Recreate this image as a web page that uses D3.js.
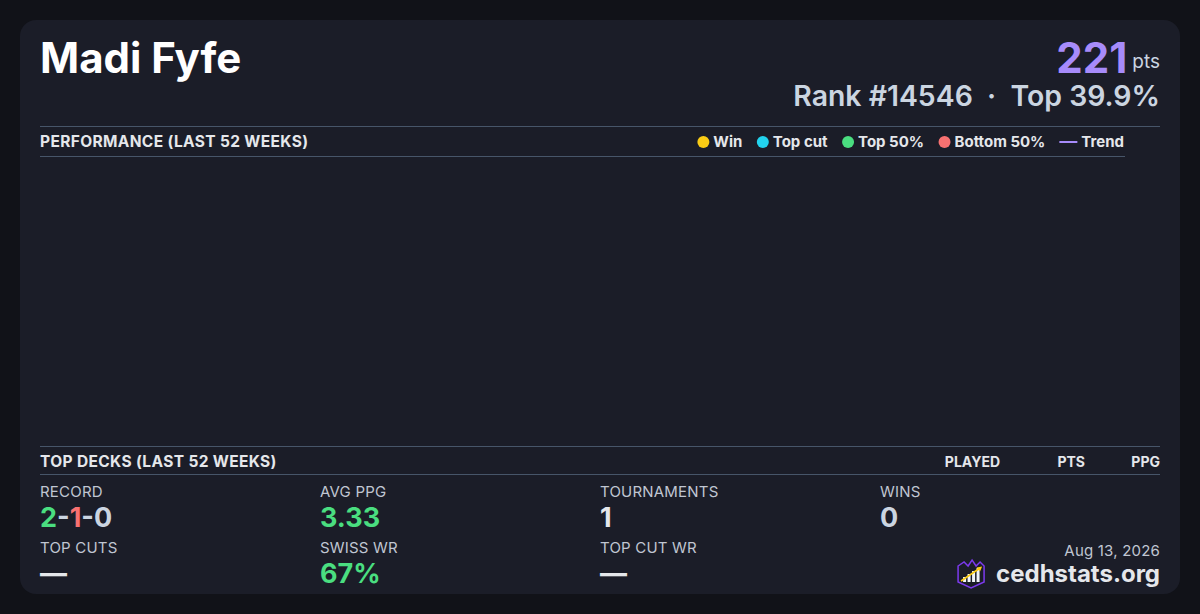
<!DOCTYPE html>
<html>
<head>
<meta charset="utf-8">
<script src="https://cdn.jsdelivr.net/npm/d3@7"></script>
<style>
  html, body { margin: 0; padding: 0; background: #111218; }
  svg { display: block; font-family: Inter, "Noto Sans", sans-serif; }
</style>
</head>
<body>
<div class="chart"></div>
<script>
var playerName = "Madi Fyfe";
var points = 221;
var rankText = "Rank #14546";
var topText = "Top 39.9%";

var legendNames = ["Win", "Top cut", "Top 50%", "Bottom 50%", "Trend"];
var legendColors = ["#facc15", "#22d3ee", "#4ade80", "#f87171", "#a78bfa"];

// weekly results, none in the last 52 weeks
var perfWeeks = [];
var perfPoints = [];

var deckHeaders = ["PLAYED", "PTS", "PPG"];

var statLabels = ["RECORD", "AVG PPG", "TOURNAMENTS", "WINS", "TOP CUTS", "SWISS WR", "TOP CUT WR"];
var statValues = [null, "3.33", "1", "0", "\u2014", "67%", "\u2014"];
var statColors = [null, "#4ade80", "#e5e7eb", "#cbd5e1", "#e5e7eb", "#4ade80", "#e5e7eb"];
var recordParts = ["2", "-", "1", "-0"];
var recordColors = ["#4ade80", "#cbd5e1", "#f87171", "#cbd5e1"];

var dateText = "Aug 13, 2026";
var siteText = "cedhstats.org";

var svgWidth = 1200;
var svgHeight = 614;

var svg = d3.select(".chart")
  .append("svg")
  .attr("width", svgWidth)
  .attr("height", svgHeight);

svg.append("rect")
  .attr("width", svgWidth)
  .attr("height", svgHeight)
  .attr("fill", "#111218");

// card
svg.append("rect")
  .attr("x", 20)
  .attr("y", 20)
  .attr("width", 1160)
  .attr("height", 574)
  .attr("rx", 16)
  .attr("fill", "#1b1d28");

var left = 40, right = 1160;

// header
svg.append("text")
  .attr("x", left)
  .attr("y", 73)
  .attr("fill", "#ffffff")
  .attr("font-size", 42)
  .attr("font-weight", 700)
  .text(playerName);

var ptsLabel = svg.append("text")
  .attr("x", right)
  .attr("y", 68)
  .attr("text-anchor", "end")
  .attr("fill", "#cbd5e1")
  .attr("font-size", 19)
  .text("pts");

var ptsW = ptsLabel.node().getComputedTextLength();
svg.append("text")
  .attr("x", right - ptsW - 5)
  .attr("y", 73)
  .attr("text-anchor", "end")
  .attr("fill", "#a78bfa")
  .attr("font-size", 42)
  .attr("font-weight", 700)
  .text(points);

svg.append("text")
  .attr("x", right)
  .attr("y", 106)
  .attr("text-anchor", "end")
  .attr("fill", "#cbd5e1")
  .attr("font-size", 28.4)
  .attr("font-weight", 600)
  .attr("xml:space", "preserve")
  .text(rankText + "  \u00b7  " + topText);

var ruleColor = "#475569";
function rule(y, x2) {
  svg.append("line")
    .attr("x1", left).attr("x2", x2)
    .attr("y1", y).attr("y2", y)
    .attr("stroke", ruleColor)
    .attr("stroke-width", 1);
}

// performance section
rule(126.5, right);
svg.append("text")
  .attr("x", left)
  .attr("y", 147)
  .attr("fill", "#e5e7eb")
  .attr("font-size", 15.5)
  .attr("font-weight", 700)
  .attr("letter-spacing", 0.35)
  .text("PERFORMANCE (LAST 52 WEEKS)");

var plotRight = 1125;
rule(156.5, plotRight);

// legend, laid out from the right edge
var legend = svg.append("g");
var lx = plotRight - 1;
for (var i = legendNames.length - 1; i >= 0; i--) {
  var t = legend.append("text")
    .attr("x", lx)
    .attr("y", 147)
    .attr("text-anchor", "end")
    .attr("fill", "#e5e7eb")
    .attr("font-size", 15)
    .attr("font-weight", 700)
    .text(legendNames[i]);
  var tw = t.node().getComputedTextLength();
  var markEnd = lx - tw - 4;
  if (legendNames[i] === "Trend") {
    legend.append("line")
      .attr("x1", markEnd - 18).attr("x2", markEnd)
      .attr("y1", 142).attr("y2", 142)
      .attr("stroke", legendColors[i])
      .attr("stroke-width", 2);
    lx = markEnd - 18 - 14;
  } else {
    legend.append("circle")
      .attr("cx", markEnd - 6)
      .attr("cy", 142)
      .attr("r", 6)
      .attr("fill", legendColors[i]);
    lx = markEnd - 12 - 14.5;
  }
}

// plot area (empty: no events in range)
var x = d3.scaleLinear().domain([0, 51]).range([left + 10, plotRight - 10]);
var y = d3.scaleLinear().domain([0, 10]).range([440, 165]);
svg.append("g")
  .selectAll("circle")
  .data(perfPoints)
  .enter()
  .append("circle")
  .attr("cx", (d, i) => x(perfWeeks[i]))
  .attr("cy", d => y(d.pts))
  .attr("r", 5)
  .attr("fill", d => legendColors[d.cat]);

// top decks section
rule(446.5, right);
svg.append("text")
  .attr("x", left)
  .attr("y", 467)
  .attr("fill", "#e5e7eb")
  .attr("font-size", 15.5)
  .attr("font-weight", 700)
  .attr("letter-spacing", 0.35)
  .text("TOP DECKS (LAST 52 WEEKS)");

var headerX = [1000, 1085, 1160];
svg.selectAll(".deckHeader")
  .data(deckHeaders)
  .enter()
  .append("text")
  .attr("x", (d, i) => headerX[i])
  .attr("y", 467)
  .attr("text-anchor", "end")
  .attr("fill", "#e5e7eb")
  .attr("font-size", 14)
  .attr("font-weight", 700)
  .text(d => d);

rule(474.5, right);

// stats grid
var colX = [40, 320, 600, 880];
var rowY = [497, 553];
statLabels.forEach(function(lab, i) {
  var cx = colX[i % 4];
  var ry = rowY[Math.floor(i / 4)];
  svg.append("text")
    .attr("x", cx)
    .attr("y", ry)
    .attr("fill", "#c0c6d2")
    .attr("font-size", 15)
    .attr("letter-spacing", 0.2)
    .text(lab);
  if (i === 0) {
    var rec = svg.append("text")
      .attr("x", cx)
      .attr("y", ry + 30)
      .attr("font-size", 27)
      .attr("font-weight", 700);
    recordParts.forEach(function(p, j) {
      rec.append("tspan").attr("fill", recordColors[j]).text(p);
    });
  } else {
    svg.append("text")
      .attr("x", cx)
      .attr("y", ry + 30)
      .attr("fill", statColors[i])
      .attr("font-size", 27)
      .attr("font-weight", 700)
      .text(statValues[i]);
  }
});

// footer
svg.append("text")
  .attr("x", right)
  .attr("y", 556)
  .attr("text-anchor", "end")
  .attr("fill", "#c0c6d2")
  .attr("font-size", 15)
  .attr("letter-spacing", 0.2)
  .text(dateText);

var site = svg.append("text")
  .attr("x", right)
  .attr("y", 582)
  .attr("text-anchor", "end")
  .attr("fill", "#e5e7eb")
  .attr("font-size", 24)
  .attr("font-weight", 700)
  .text(siteText);

// logo
var sw = site.node().getComputedTextLength();
var logo = svg.append("g")
  .attr("transform", `translate(${right - sw - 40}, 558)`);
logo.append("path")
  .attr("d", "M2,8 L8,4 L12,8 L16,2 L20,8 L24,4 L28,8 L28,24 L15,30 L2,24 Z")
  .attr("fill", "#1b1d28")
  .attr("stroke", "#7c3aed")
  .attr("stroke-width", 1.5);
var barH = [5, 8, 11, 14];
logo.selectAll(".bar")
  .data(barH)
  .enter()
  .append("rect")
  .attr("x", (d, i) => 7 + i * 4.5)
  .attr("y", d => 24 - d)
  .attr("width", 3)
  .attr("height", d => d)
  .attr("fill", "#f1f5f9");
logo.append("line")
  .attr("x1", 5).attr("y1", 23)
  .attr("x2", 24).attr("y2", 10)
  .attr("stroke", "#facc15")
  .attr("stroke-width", 1.6);
logo.append("path")
  .attr("d", "M26,8.5 L20.5,9.5 L24,13.5 Z")
  .attr("fill", "#facc15");
</script>
</body>
</html>
